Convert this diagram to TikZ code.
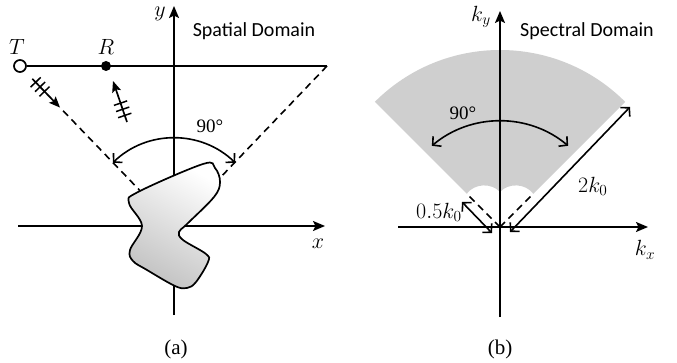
\RequirePackage{fix-cm}
\documentclass[tikz,border=0pt]{standalone}
\usepackage{fontspec}
\setmainfont{Liberation Serif}
\newfontfamily\calib{Carlito}
\usetikzlibrary{arrows.meta,calc}
\newcommand\lblsize{\fontsize{22}{24}\selectfont}
\begin{document}
\begin{tikzpicture}[x=1pt,y=1pt,line width=1.7pt,
  axis/.style={line width=1.8pt,-{Stealth[length=12pt,width=10pt,inset=2.5pt]}},
  dashline/.style={dash pattern=on 7pt off 5pt,line width=1.6pt},
  barb/.style={line width=1.6pt,{Straight Barb[length=6pt,width=13pt]}-{Straight Barb[length=6pt,width=13pt]}},
  wavearrow/.style={line width=1.7pt,-{Stealth[length=11pt,width=9pt,inset=2pt]}},
  hatchmark/.style={line width=1.5pt},
  lbl/.style={font=\lblsize},
  dom/.style={font=\calib\fontsize{20}{22}\selectfont},
  captext/.style={font=\fontsize{21}{23}\selectfont},
  sect/.style={fill=black!19,draw=none}]
\useasboundingbox (0,0) rectangle (677,362);

% ---------------- (a) spatial domain ----------------
\coordinate (O1) at (174,136);
\draw[axis] (18,136) -- (325,136);
\draw[axis] (174,47) -- (174,356);
\node[circle,draw,minimum size=12pt,inner sep=0pt,line width=1.7pt] (Tc) at (20,296) {};
\node[circle,fill,minimum size=10pt,inner sep=0pt] (Rc) at (106,296) {};
\coordinate (E) at (327,296);
\draw (Tc.east) -- (E);
\draw[dashline] ($(Tc)!0.28!(O1)$) -- (O1);
\draw[dashline] (E) -- (O1);
\draw[line width=1.7pt,top color=white,bottom color=black!24,shading angle=-30]
  plot[smooth cycle,tension=0.6] coordinates {
   (203,198) (138,170) (129,159) (142,136) (130,112) (133,101) (147,92)
   (175,76) (187,74) (196,80) (208,100) (206,108) (183,122) (179,130)
   (187,138) (214,165) (220,180) (215,194)};
\draw[barb] ($(O1)+(46:88)$) arc[start angle=46,end angle=134,radius=88];
\node[font=\fontsize{19}{21}\selectfont] (a90) at (210,236) {90°};
\node[lbl] (Tl) at (17,315) {$T$};
\node[lbl] (Rl) at (106,315) {$R$};
\node[lbl] (yl) at (160,348) {$y$};
\node[lbl] (xl) at (318,118) {$x$};
\node[dom] (sd) at (254,331) {Spatial Domain};
% incident wave arrow
\coordinate (Ta) at ($(Tc)!0.08!(O1)$);
\coordinate (Tb) at ($(Tc)!0.26!(O1)$);
\draw[wavearrow] (Ta) -- (Tb);
\foreach \t in {0.12,0.28,0.44}
  \draw[hatchmark] ($(Ta)!\t!(Tb)!7pt!90:(Tb)$) -- ($(Ta)!\t!(Tb)!7pt!-90:(Tb)$);
% scattered wave arrow
\coordinate (Ra) at (127,240);
\coordinate (Rb) at (113,281);
\draw[wavearrow] (Ra) -- (Rb);
\foreach \t in {0.16,0.31,0.46}
  \draw[hatchmark] ($(Ra)!\t!(Rb)!7pt!90:(Rb)$) -- ($(Ra)!\t!(Rb)!7pt!-90:(Rb)$);
\node[captext] (capa) at (176,13) {(a)};

% ---------------- (b) spectral domain ----------------
\coordinate (O2) at (500,135);
\coordinate (L2) at ($(O2)+(135:47)$);
\coordinate (R2) at ($(O2)+(45:47)$);
\coordinate (C2) at (500,170);
\fill[sect] (L2) -- ($(O2)+(135:177)$) arc[start angle=135,end angle=45,radius=177]
  -- (R2) to[bend right=50] (C2) to[bend right=50] (L2) -- cycle;
\draw[axis] (398,135) -- (648,135);
\draw[axis] (500,45) -- (500,351);
\draw[dashline] (O2) -- (L2);
\draw[dashline] (O2) -- (R2);
\draw[barb] ($(O2)+(50:106)$) arc[start angle=50,end angle=130,radius=106];
\node[font=\fontsize{19}{21}\selectfont] (b90) at (463,249) {90°};
\coordinate (H1) at (462,160);
\coordinate (H2) at (492,129);
\draw[barb] (H1) -- (H2);
\coordinate (F1) at (630,255);
\coordinate (F2) at (510,130);
\draw[barb] (F1) -- (F2);
\node[lbl,anchor=base west] (hk) at (412,144) {$0.5k_0$};
\node[lbl,anchor=base west] (fk) at (574,170) {$2k_0$};
\node[lbl] (kyl) at (481,345) {$k_y$};
\node[lbl] (kxl) at (645,112) {$k_x$};
\node[dom] (spd) at (587,331) {Spectral Domain};
\node[captext] (capb) at (500,13) {(b)};
\end{tikzpicture}
\end{document}
